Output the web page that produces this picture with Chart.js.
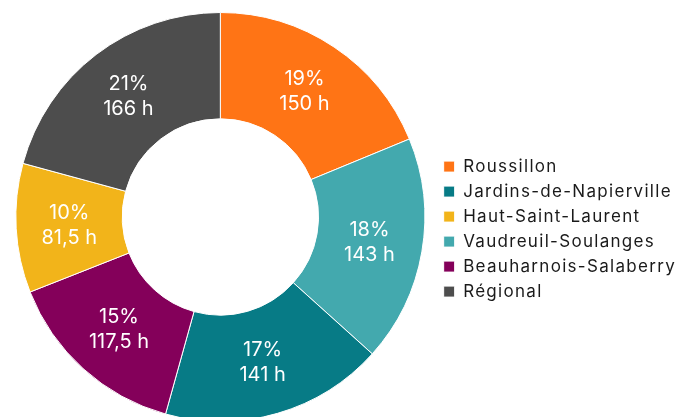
<!DOCTYPE html>
<html lang="fr">
<head>
<meta charset="UTF-8">
<title>Heures par MRC</title>
<script src="https://cdn.jsdelivr.net/npm/chart.js"></script>
<style>
  html, body { margin: 0; padding: 0; overflow: hidden; background: #fff; }
  #wrap { width: 688px; height: 422px; position: relative; }
</style>
</head>
<body>
<div id="wrap"><canvas id="donut"></canvas></div>
<script>
// slice order (clockwise from top)
const regions = ['Roussillon', 'Vaudreuil-Soulanges', 'Jardins-de-Napierville', 'Beauharnois-Salaberry', 'Haut-Saint-Laurent', 'Régional'];
const hours = [150, 143, 141, 117.5, 81.5, 166];
const pctLabels = ['19%', '18%', '17%', '15%', '10%', '21%'];
const colors = ['#FF7415', '#43A9AE', '#077B86', '#84005A', '#F2B41A', '#4D4D4D'];
// legend order as shown in the original
const legendOrder = ['Roussillon', 'Jardins-de-Napierville', 'Haut-Saint-Laurent', 'Vaudreuil-Soulanges', 'Beauharnois-Salaberry', 'Régional'];

const FONT = 'Inter, "Noto Sans", sans-serif';

// legend text in the original is loosely spaced
const legendSpacing = {
  id: 'legendSpacing',
  beforeLayout(chart) { chart.ctx.letterSpacing = '1.3px'; },
  beforeDraw(chart) { chart.ctx.letterSpacing = '1.3px'; },
  beforeDatasetsDraw(chart) { chart.ctx.letterSpacing = '0px'; }
};

const sliceLabels = {
  id: 'sliceLabels',
  afterDatasetsDraw(chart) {
    const ctx = chart.ctx;
    const meta = chart.getDatasetMeta(0);
    ctx.save();
    ctx.letterSpacing = '0px';
    ctx.fillStyle = '#fff';
    ctx.font = '20px ' + FONT;
    ctx.textAlign = 'center';
    ctx.textBaseline = 'middle';
    meta.data.forEach((arc, i) => {
      const p = arc.tooltipPosition();
      ctx.fillText(pctLabels[i], p.x, p.y - 12.5);
      ctx.fillText(String(hours[i]).replace('.', ',') + ' h', p.x, p.y + 12.5);
    });
    ctx.restore();
  }
};

new Chart(document.getElementById('donut'), {
  type: 'doughnut',
  data: {
    labels: regions,
    datasets: [{
      data: hours,
      backgroundColor: colors,
      borderColor: '#fff',
      borderWidth: 1
    }]
  },
  options: {
    responsive: true,
    maintainAspectRatio: false,
    animation: false,
    cutout: '48%',
    layout: { padding: { top: 12, bottom: 0, left: 5, right: 2 } },
    plugins: {
      tooltip: { enabled: false },
      legend: {
        position: 'right',
        align: 'center',
        title: { display: true, text: '', font: { size: 1 }, padding: { top: 23, bottom: 0 } },
        labels: {
          boxWidth: 11,
          boxHeight: 11,
          padding: 8,
          color: '#1a1a1a',
          font: { family: FONT, size: 17 },
          sort: (a, b) => legendOrder.indexOf(a.text) - legendOrder.indexOf(b.text)
        }
      }
    }
  },
  plugins: [legendSpacing, sliceLabels]
});
</script>
</body>
</html>
